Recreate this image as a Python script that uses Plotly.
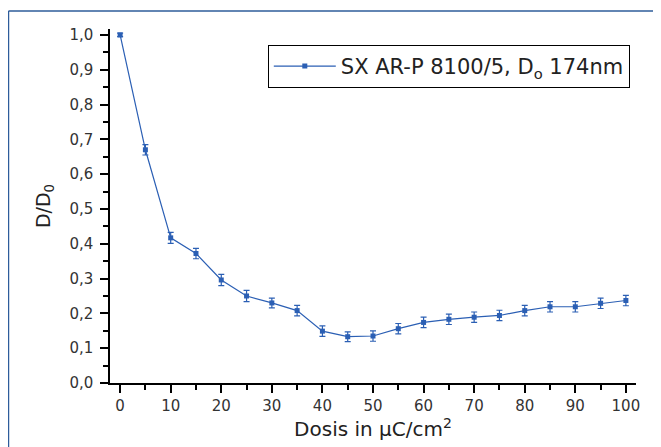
import plotly.graph_objects as go

dose = [0, 5, 10, 15, 20, 25, 30, 35, 40, 45, 50, 55, 60, 65, 70, 75, 80, 85, 90, 95, 100]
ratio = [1.0, 0.67, 0.417, 0.372, 0.296, 0.25, 0.23, 0.208, 0.149, 0.133, 0.135, 0.156, 0.174,
         0.183, 0.189, 0.194, 0.208, 0.219, 0.219, 0.229, 0.237]
err = [0.005, 0.015, 0.016, 0.015, 0.016, 0.016, 0.014, 0.015, 0.015, 0.014, 0.015, 0.015, 0.015,
       0.015, 0.015, 0.015, 0.015, 0.015, 0.015, 0.015, 0.015]
xticks = list(range(0, 101, 10))

blue = "#2b5fb4"
frame = "#2e5c9a"
font = "DejaVu Sans, Liberation Sans, sans-serif"

fig = go.Figure()
fig.add_trace(go.Scatter(
    x=dose, y=ratio, mode="lines+markers",
    name="SX AR-P 8100/5, D<sub>o</sub> 174nm",
    line=dict(color=blue, width=1.2),
    marker=dict(symbol="square", size=5, color=blue),
    error_y=dict(type="data", array=err, visible=True, color=blue, thickness=1.2, width=3),
))

# page body has an 8px margin, so the figure sits at (8, 8) in the window
fig.update_layout(
    width=653, height=439,
    margin=dict(l=102, r=25, t=21, b=64),
    paper_bgcolor="white", plot_bgcolor="white",
    separators=",.",
    font=dict(family=font, color="#333333", size=15),
    showlegend=True,
    legend=dict(
        x=0.30, y=0.955, xanchor="left", yanchor="top",
        bordercolor="black", borderwidth=1, bgcolor="white",
        font=dict(size=21, color="#222222", family=font),
        itemwidth=62,
    ),
    xaxis=dict(
        range=[-2, 102], showgrid=False, zeroline=False, automargin=False,
        showline=True, linecolor="black", linewidth=1.5,
        ticks="outside", ticklen=8, tickwidth=1.5, tickcolor="black",
        tickmode="array", tickvals=xticks,
        ticktext=[str(v) for v in xticks],
        minor=dict(ticks="outside", ticklen=5, tickwidth=1.5, tickcolor="black", dtick=5, tick0=0),
        tickfont=dict(size=15, color="#333333"),
        title=dict(text="Dosis in µC/cm<sup>2</sup>", font=dict(size=20, color="#222222"), standoff=5),
    ),
    yaxis=dict(
        range=[0, 1.017], showgrid=False, zeroline=False, automargin=False,
        showline=True, linecolor="black", linewidth=1.5,
        ticks="outside", ticklen=8, tickwidth=1.5, tickcolor="black",
        dtick=0.1, tick0=0, tickformat=".1f",
        minor=dict(ticks="outside", ticklen=5, tickwidth=1.5, tickcolor="black", dtick=0.05, tick0=0),
        tickfont=dict(size=15, color="#333333"),
        ticklabelstandoff=4,
        title=dict(text="D/D<sub>0</sub>", font=dict(size=19, color="#222222"), standoff=14),
    ),
    shapes=[
        dict(type="line", xref="paper", yref="paper",
             x0=-0.193, y0=1.051, x1=1.2, y1=1.051,
             line=dict(color=frame, width=1.5), layer="below"),
        dict(type="line", xref="paper", yref="paper",
             x0=-0.193, y0=-0.3, x1=-0.193, y1=1.051,
             line=dict(color=frame, width=1.5), layer="below"),
    ],
)

fig.write_html("out.html")
